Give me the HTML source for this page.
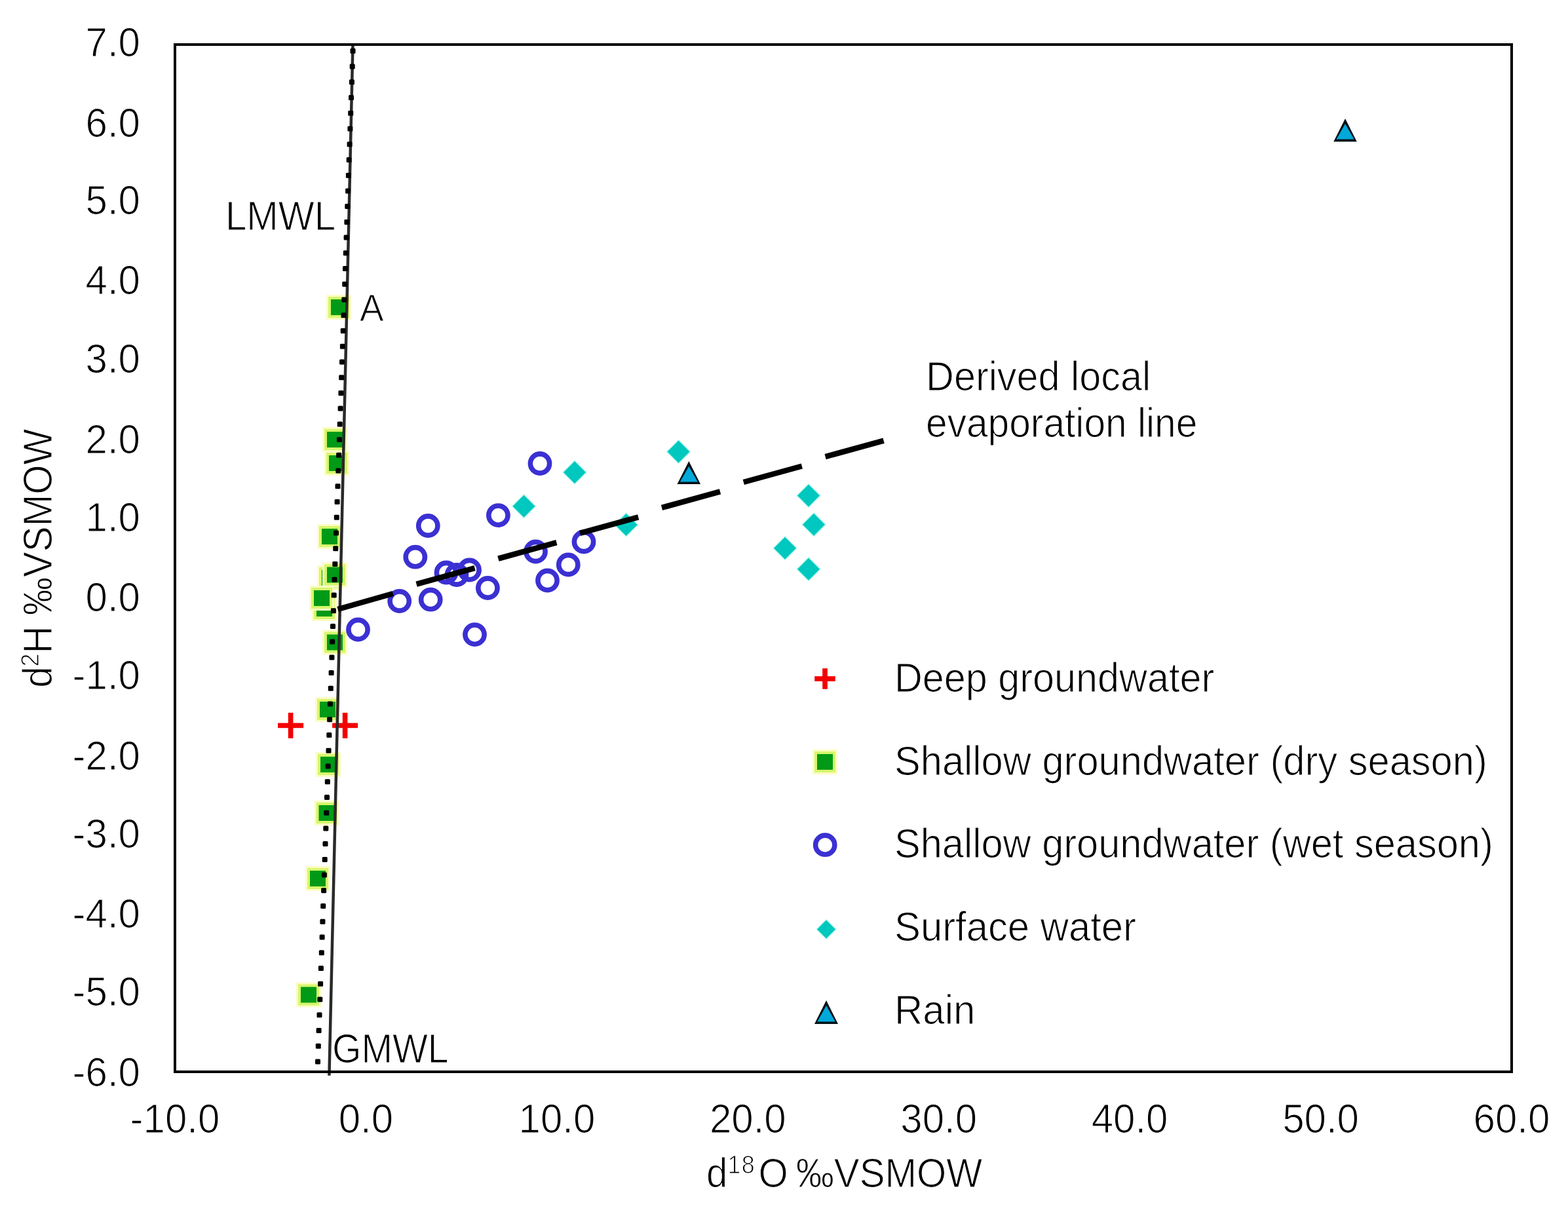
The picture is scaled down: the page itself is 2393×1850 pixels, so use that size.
<!DOCTYPE html>
<html><head><meta charset="utf-8"><title>Isotope plot</title>
<style>html,body{margin:0;padding:0;background:#fff;width:2393px;height:1850px;overflow:hidden}svg{display:block}</style>
</head><body>
<svg width="2393" height="1850" viewBox="0 0 2393 1850">
<rect width="2393" height="1850" fill="#fff"/>
<rect x="498.0" y="450.0" width="38" height="38" fill="#fdfcc4"/><rect x="501.0" y="453.0" width="32" height="32" fill="#d6f66c"/><rect x="505.0" y="457.0" width="24" height="24" fill="#009a16"/>
<rect x="492.0" y="652.0" width="38" height="38" fill="#fdfcc4"/><rect x="495.0" y="655.0" width="32" height="32" fill="#d6f66c"/><rect x="499.0" y="659.0" width="24" height="24" fill="#009a16"/>
<rect x="495.0" y="688.0" width="38" height="38" fill="#fdfcc4"/><rect x="498.0" y="691.0" width="32" height="32" fill="#d6f66c"/><rect x="502.0" y="695.0" width="24" height="24" fill="#009a16"/>
<rect x="484.0" y="800.0" width="38" height="38" fill="#fdfcc4"/><rect x="487.0" y="803.0" width="32" height="32" fill="#d6f66c"/><rect x="491.0" y="807.0" width="24" height="24" fill="#009a16"/>
<rect x="484.0" y="863.0" width="38" height="38" fill="#fdfcc4"/><rect x="487.0" y="866.0" width="32" height="32" fill="#d6f66c"/><rect x="491.0" y="870.0" width="24" height="24" fill="#009a16"/>
<rect x="492.0" y="858.5" width="38" height="38" fill="#fdfcc4"/><rect x="495.0" y="861.5" width="32" height="32" fill="#d6f66c"/><rect x="499.0" y="865.5" width="24" height="24" fill="#009a16"/>
<rect x="476.0" y="910.0" width="38" height="38" fill="#fdfcc4"/><rect x="479.0" y="913.0" width="32" height="32" fill="#d6f66c"/><rect x="483.0" y="917.0" width="24" height="24" fill="#009a16"/>
<rect x="472.0" y="894.0" width="38" height="38" fill="#fdfcc4"/><rect x="475.0" y="897.0" width="32" height="32" fill="#d6f66c"/><rect x="479.0" y="901.0" width="24" height="24" fill="#009a16"/>
<rect x="492.0" y="961.5" width="38" height="38" fill="#fdfcc4"/><rect x="495.0" y="964.5" width="32" height="32" fill="#d6f66c"/><rect x="499.0" y="968.5" width="24" height="24" fill="#009a16"/>
<rect x="481.0" y="1064.0" width="38" height="38" fill="#fdfcc4"/><rect x="484.0" y="1067.0" width="32" height="32" fill="#d6f66c"/><rect x="488.0" y="1071.0" width="24" height="24" fill="#009a16"/>
<rect x="482.0" y="1148.0" width="38" height="38" fill="#fdfcc4"/><rect x="485.0" y="1151.0" width="32" height="32" fill="#d6f66c"/><rect x="489.0" y="1155.0" width="24" height="24" fill="#009a16"/>
<rect x="479.5" y="1222.0" width="38" height="38" fill="#fdfcc4"/><rect x="482.5" y="1225.0" width="32" height="32" fill="#d6f66c"/><rect x="486.5" y="1229.0" width="24" height="24" fill="#009a16"/>
<rect x="466.0" y="1322.0" width="38" height="38" fill="#fdfcc4"/><rect x="469.0" y="1325.0" width="32" height="32" fill="#d6f66c"/><rect x="473.0" y="1329.0" width="24" height="24" fill="#009a16"/>
<rect x="452.0" y="1499.5" width="38" height="38" fill="#fdfcc4"/><rect x="455.0" y="1502.5" width="32" height="32" fill="#d6f66c"/><rect x="459.0" y="1506.5" width="24" height="24" fill="#009a16"/>
<rect x="424.1" y="1103.6" width="39" height="7.6" fill="#f20000"/><rect x="439.8" y="1087.9" width="7.6" height="39" fill="#f20000"/>
<rect x="507.1" y="1103.6" width="39" height="7.6" fill="#f20000"/><rect x="522.8" y="1087.9" width="7.6" height="39" fill="#f20000"/>
<circle cx="824" cy="707.5" r="14.6" fill="none" stroke="#3b30d2" stroke-width="7.6"/>
<circle cx="653.3" cy="802.5" r="14.6" fill="none" stroke="#3b30d2" stroke-width="7.6"/>
<circle cx="760.4" cy="786.6" r="14.6" fill="none" stroke="#3b30d2" stroke-width="7.6"/>
<circle cx="633.8" cy="850.2" r="14.6" fill="none" stroke="#3b30d2" stroke-width="7.6"/>
<circle cx="817.5" cy="842" r="14.6" fill="none" stroke="#3b30d2" stroke-width="7.6"/>
<circle cx="891" cy="827" r="14.6" fill="none" stroke="#3b30d2" stroke-width="7.6"/>
<circle cx="867.3" cy="862" r="14.6" fill="none" stroke="#3b30d2" stroke-width="7.6"/>
<circle cx="835.5" cy="886" r="14.6" fill="none" stroke="#3b30d2" stroke-width="7.6"/>
<circle cx="744.4" cy="897.5" r="14.6" fill="none" stroke="#3b30d2" stroke-width="7.6"/>
<circle cx="609.7" cy="917.5" r="14.6" fill="none" stroke="#3b30d2" stroke-width="7.6"/>
<circle cx="657.2" cy="915.2" r="14.6" fill="none" stroke="#3b30d2" stroke-width="7.6"/>
<circle cx="546.5" cy="961" r="14.6" fill="none" stroke="#3b30d2" stroke-width="7.6"/>
<circle cx="724.5" cy="968.6" r="14.6" fill="none" stroke="#3b30d2" stroke-width="7.6"/>
<circle cx="681" cy="874" r="14.6" fill="none" stroke="#3b30d2" stroke-width="7.6"/>
<circle cx="697" cy="877.5" r="14.6" fill="none" stroke="#3b30d2" stroke-width="7.6"/>
<circle cx="716.5" cy="870" r="14.6" fill="none" stroke="#3b30d2" stroke-width="7.6"/>
<polygon points="877,702 896,721 877,740 858,721" fill="#b8fbee"/><polygon points="877,704 894,721 877,738 860,721" fill="#00c8bf"/>
<polygon points="799.5,753.7 818.5,772.7 799.5,791.7 780.5,772.7" fill="#b8fbee"/><polygon points="799.5,755.7 816.5,772.7 799.5,789.7 782.5,772.7" fill="#00c8bf"/>
<polygon points="955.6,782 974.6,801 955.6,820 936.6,801" fill="#b8fbee"/><polygon points="955.6,784 972.6,801 955.6,818 938.6,801" fill="#00c8bf"/>
<polygon points="1035.5,670.5 1054.5,689.5 1035.5,708.5 1016.5,689.5" fill="#b8fbee"/><polygon points="1035.5,672.5 1052.5,689.5 1035.5,706.5 1018.5,689.5" fill="#00c8bf"/>
<polygon points="1234,737.4 1253,756.4 1234,775.4 1215,756.4" fill="#b8fbee"/><polygon points="1234,739.4 1251,756.4 1234,773.4 1217,756.4" fill="#00c8bf"/>
<polygon points="1242,781.7 1261,800.7 1242,819.7 1223,800.7" fill="#b8fbee"/><polygon points="1242,783.7 1259,800.7 1242,817.7 1225,800.7" fill="#00c8bf"/>
<polygon points="1198,817.8 1217,836.8 1198,855.8 1179,836.8" fill="#b8fbee"/><polygon points="1198,819.8 1215,836.8 1198,853.8 1181,836.8" fill="#00c8bf"/>
<polygon points="1234,849.7 1253,868.7 1234,887.7 1215,868.7" fill="#b8fbee"/><polygon points="1234,851.7 1251,868.7 1234,885.7 1217,868.7" fill="#00c8bf"/>
<polygon points="1051.3,704 1069.1,739 1033.5,739" fill="#061018"/><polygon points="1051.3,712 1064.8,735.4 1037.8,735.4" fill="#00a9da"/>
<polygon points="2053,181 2070.75,216.2 2035.25,216.2" fill="#061018"/><polygon points="2053,189 2066.45,212.6 2039.55,212.6" fill="#00a9da"/>
<line x1="538.5" y1="68" x2="502.4" y2="1641.8" stroke="#2a2a2a" stroke-width="4.5"/>
<g fill="#000"><rect x="534.5" y="73.8" width="8" height="8" rx="1.5"/><rect x="533.7" y="97.5" width="8" height="8" rx="1.5"/><rect x="532.9" y="121.3" width="8" height="8" rx="1.5"/><rect x="532.0" y="145.0" width="8" height="8" rx="1.5"/><rect x="531.2" y="168.7" width="8" height="8" rx="1.5"/><rect x="530.4" y="192.5" width="8" height="8" rx="1.5"/><rect x="529.6" y="216.2" width="8" height="8" rx="1.5"/><rect x="528.7" y="239.9" width="8" height="8" rx="1.5"/><rect x="527.9" y="263.7" width="8" height="8" rx="1.5"/><rect x="527.1" y="287.4" width="8" height="8" rx="1.5"/><rect x="526.3" y="311.1" width="8" height="8" rx="1.5"/><rect x="525.4" y="334.9" width="8" height="8" rx="1.5"/><rect x="524.6" y="358.6" width="8" height="8" rx="1.5"/><rect x="523.8" y="382.3" width="8" height="8" rx="1.5"/><rect x="523.0" y="406.1" width="8" height="8" rx="1.5"/><rect x="522.2" y="429.8" width="8" height="8" rx="1.5"/><rect x="521.3" y="453.5" width="8" height="8" rx="1.5"/><rect x="520.5" y="477.2" width="8" height="8" rx="1.5"/><rect x="519.7" y="501.0" width="8" height="8" rx="1.5"/><rect x="518.9" y="524.7" width="8" height="8" rx="1.5"/><rect x="518.0" y="548.4" width="8" height="8" rx="1.5"/><rect x="517.2" y="572.2" width="8" height="8" rx="1.5"/><rect x="516.4" y="595.9" width="8" height="8" rx="1.5"/><rect x="515.6" y="619.6" width="8" height="8" rx="1.5"/><rect x="514.7" y="643.4" width="8" height="8" rx="1.5"/><rect x="513.9" y="667.1" width="8" height="8" rx="1.5"/><rect x="513.1" y="690.8" width="8" height="8" rx="1.5"/><rect x="512.3" y="714.6" width="8" height="8" rx="1.5"/><rect x="511.5" y="738.3" width="8" height="8" rx="1.5"/><rect x="510.6" y="762.0" width="8" height="8" rx="1.5"/><rect x="509.8" y="785.8" width="8" height="8" rx="1.5"/><rect x="509.0" y="809.5" width="8" height="8" rx="1.5"/><rect x="508.2" y="833.2" width="8" height="8" rx="1.5"/><rect x="507.3" y="857.0" width="8" height="8" rx="1.5"/><rect x="506.5" y="880.7" width="8" height="8" rx="1.5"/><rect x="505.7" y="904.4" width="8" height="8" rx="1.5"/><rect x="504.9" y="928.2" width="8" height="8" rx="1.5"/><rect x="504.0" y="951.9" width="8" height="8" rx="1.5"/><rect x="503.2" y="975.6" width="8" height="8" rx="1.5"/><rect x="502.4" y="999.4" width="8" height="8" rx="1.5"/><rect x="501.6" y="1023.1" width="8" height="8" rx="1.5"/><rect x="500.8" y="1046.8" width="8" height="8" rx="1.5"/><rect x="499.9" y="1070.6" width="8" height="8" rx="1.5"/><rect x="499.1" y="1094.3" width="8" height="8" rx="1.5"/><rect x="498.3" y="1118.0" width="8" height="8" rx="1.5"/><rect x="497.5" y="1141.8" width="8" height="8" rx="1.5"/><rect x="496.6" y="1165.5" width="8" height="8" rx="1.5"/><rect x="495.8" y="1189.2" width="8" height="8" rx="1.5"/><rect x="495.0" y="1213.0" width="8" height="8" rx="1.5"/><rect x="494.2" y="1236.7" width="8" height="8" rx="1.5"/><rect x="493.3" y="1260.4" width="8" height="8" rx="1.5"/><rect x="492.5" y="1284.1" width="8" height="8" rx="1.5"/><rect x="491.7" y="1307.9" width="8" height="8" rx="1.5"/><rect x="490.9" y="1331.6" width="8" height="8" rx="1.5"/><rect x="490.1" y="1355.3" width="8" height="8" rx="1.5"/><rect x="489.2" y="1379.1" width="8" height="8" rx="1.5"/><rect x="488.4" y="1402.8" width="8" height="8" rx="1.5"/><rect x="487.6" y="1426.5" width="8" height="8" rx="1.5"/><rect x="486.8" y="1450.3" width="8" height="8" rx="1.5"/><rect x="485.9" y="1474.0" width="8" height="8" rx="1.5"/><rect x="485.1" y="1497.7" width="8" height="8" rx="1.5"/><rect x="484.3" y="1521.5" width="8" height="8" rx="1.5"/><rect x="483.5" y="1545.2" width="8" height="8" rx="1.5"/><rect x="482.6" y="1568.9" width="8" height="8" rx="1.5"/><rect x="481.8" y="1592.7" width="8" height="8" rx="1.5"/><rect x="481.0" y="1616.4" width="8" height="8" rx="1.5"/></g>
<g stroke="#000" stroke-width="8.5"><line x1="515.5" y1="930.0" x2="599.8" y2="906.0"/><line x1="635.6" y1="891.6" x2="724.6" y2="867.1"/><line x1="760.4" y1="852.7" x2="849.4" y2="828.2"/><line x1="885.2" y1="813.8" x2="974.2" y2="789.3"/><line x1="1010.0" y1="774.9" x2="1099.0" y2="750.4"/><line x1="1134.8" y1="736.0" x2="1223.8" y2="711.5"/><line x1="1259.6" y1="697.1" x2="1348.6" y2="672.6"/></g>
<rect x="267.0" y="68.0" width="2040.0" height="1568.0" fill="none" stroke="#000" stroke-width="4"/>
<rect x="1243.2" y="1032.2" width="31.6" height="7.7" fill="#f20000"/><rect x="1255.2" y="1020.2" width="7.7" height="31.6" fill="#f20000"/>
<rect x="1240.0" y="1144.0" width="38" height="38" fill="#fdfcc4"/><rect x="1243.0" y="1147.0" width="32" height="32" fill="#d6f66c"/><rect x="1247.0" y="1151.0" width="24" height="24" fill="#009a16"/>
<circle cx="1259.2" cy="1289.7" r="14.6" fill="none" stroke="#3b30d2" stroke-width="7.6"/>
<polygon points="1261,1402.5 1277,1418.5 1261,1434.5 1245,1418.5" fill="#b8fbee"/><polygon points="1261,1404.5 1275,1418.5 1261,1432.5 1247,1418.5" fill="#00c8bf"/>
<polygon points="1261,1527 1279.0,1563 1243.0,1563" fill="#061018"/><polygon points="1261,1535 1274.7,1559.4 1247.3,1559.4" fill="#00a9da"/>
<g style="font-family:'Liberation Sans',Arial,sans-serif" font-size="60" fill="#000" stroke="#fff" stroke-width="1.1">
<text transform="translate(214.0,85.6) scale(1.0000,1.0530)" text-anchor="end">7.0</text>
<text transform="translate(214.0,208.5) scale(1.0000,1.0530)" text-anchor="end">6.0</text>
<text transform="translate(214.0,326.5) scale(1.0000,1.0530)" text-anchor="end">5.0</text>
<text transform="translate(214.0,449.4) scale(1.0000,1.0530)" text-anchor="end">4.0</text>
<text transform="translate(214.0,568.8) scale(1.0000,1.0530)" text-anchor="end">3.0</text>
<text transform="translate(214.0,691.8) scale(1.0000,1.0530)" text-anchor="end">2.0</text>
<text transform="translate(214.0,810.5) scale(1.0000,1.0530)" text-anchor="end">1.0</text>
<text transform="translate(214.0,932.5) scale(1.0000,1.0530)" text-anchor="end">0.0</text>
<text transform="translate(214.0,1052.0) scale(1.0000,1.0530)" text-anchor="end">-1.0</text>
<text transform="translate(214.0,1174.7) scale(1.0000,1.0530)" text-anchor="end">-2.0</text>
<text transform="translate(214.0,1293.7) scale(1.0000,1.0530)" text-anchor="end">-3.0</text>
<text transform="translate(214.0,1416.2) scale(1.0000,1.0530)" text-anchor="end">-4.0</text>
<text transform="translate(214.0,1535.3) scale(1.0000,1.0530)" text-anchor="end">-5.0</text>
<text transform="translate(214.0,1657.5) scale(1.0000,1.0530)" text-anchor="end">-6.0</text>
<text transform="translate(267.0,1729.0) scale(1.0000,1.0530)" text-anchor="middle">-10.0</text>
<text transform="translate(558.4,1729.0) scale(1.0000,1.0530)" text-anchor="middle">0.0</text>
<text transform="translate(849.9,1729.0) scale(1.0000,1.0530)" text-anchor="middle">10.0</text>
<text transform="translate(1141.3,1729.0) scale(1.0000,1.0530)" text-anchor="middle">20.0</text>
<text transform="translate(1432.7,1729.0) scale(1.0000,1.0530)" text-anchor="middle">30.0</text>
<text transform="translate(1724.1,1729.0) scale(1.0000,1.0530)" text-anchor="middle">40.0</text>
<text transform="translate(2015.6,1729.0) scale(1.0000,1.0530)" text-anchor="middle">50.0</text>
<text transform="translate(2307.0,1729.0) scale(1.0000,1.0530)" text-anchor="middle">60.0</text>
<text transform="translate(1365.0,1055.9) scale(0.9890,1.0530)">Deep groundwater</text>
<text transform="translate(1365.0,1182.6) scale(0.9940,1.0530)">Shallow groundwater (dry season)</text>
<text transform="translate(1365.0,1309.4) scale(0.9930,1.0530)">Shallow groundwater (wet season)</text>
<text transform="translate(1365.0,1436.2) scale(0.9970,1.0530)">Surface water</text>
<text transform="translate(1365.0,1562.9) scale(1.0000,1.0530)">Rain</text>
<text transform="translate(344.0,351.0) scale(0.9700,1.0530)">LMWL</text>
<text transform="translate(507.0,1621.8) scale(0.9510,1.0530)">GMWL</text>
<text transform="translate(549.0,489.7) scale(1.0000,1.0400)" font-size="55">A</text>
<text transform="translate(1413.0,595.6) scale(0.9900,1.0530)">Derived local</text>
<text transform="translate(1413.0,666.6) scale(0.9780,1.0530)">evaporation line</text>
<text transform="translate(1288.6,1811.8) scale(0.9700,1.0530)" text-anchor="middle">d<tspan dy="-19.4" font-size="37" letter-spacing="1.5">18</tspan><tspan dy="19.4" dx="4.5">O</tspan><tspan dx="-4.5"> ‰VSMOW</tspan></text>
<text transform="translate(79.3,852.2) rotate(-90) scale(0.9710,1.0530)" text-anchor="middle">d<tspan dy="-19.4" font-size="37">2</tspan><tspan dy="19.4">H ‰VSMOW</tspan></text>
</g>
</svg>
</body></html>
